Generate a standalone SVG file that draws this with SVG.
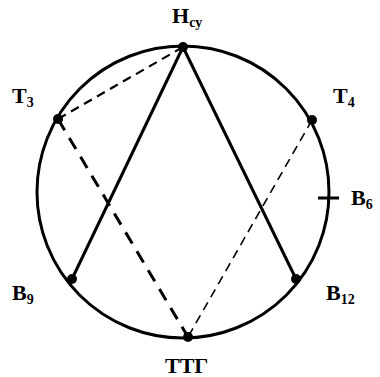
<svg xmlns="http://www.w3.org/2000/svg" width="380" height="377" viewBox="0 0 380 377">
<style>
.lbl{font-family:"Liberation Serif","Times New Roman",serif;font-weight:bold;font-size:22px;fill:#000}
.sub{font-size:14px}
.dot{fill:#000}
</style>
<rect width="380" height="377" fill="#fff"/>
<g id="circle"><circle cx="183" cy="192" r="146" fill="none" stroke="#000" stroke-width="3"/></g>
<g id="connectors" fill="none" stroke="#000">
<line x1="183" y1="47" x2="72" y2="279" stroke-width="3"/>
<line x1="183" y1="47" x2="296" y2="279" stroke-width="3"/>
<line x1="58" y1="119" x2="183" y2="47" stroke-width="2.2" stroke-dasharray="9,6"/>
<line x1="58" y1="119" x2="188" y2="337" stroke-width="3" stroke-dasharray="13,9"/>
<line x1="312" y1="120" x2="188" y2="337" stroke-width="1.6" stroke-dasharray="9,6"/>
<line x1="318" y1="198" x2="339" y2="198" stroke-width="3"/>
</g>
<g id="Hcy"><circle class="dot" cx="183" cy="47" r="5"/><text class="lbl" x="172" y="23">Н<tspan class="sub" dy="4">су</tspan></text></g>
<g id="T3"><circle class="dot" cx="58" cy="119" r="5"/><text class="lbl" x="12" y="103">Т<tspan class="sub" dy="4">3</tspan></text></g>
<g id="T4"><circle class="dot" cx="312" cy="120" r="5"/><text class="lbl" x="333" y="103">Т<tspan class="sub" dy="4">4</tspan></text></g>
<g id="B6"><text class="lbl" x="351" y="205">В<tspan class="sub" dy="4">6</tspan></text></g>
<g id="B9"><circle class="dot" cx="72" cy="279" r="5"/><text class="lbl" x="12" y="300">В<tspan class="sub" dy="4">9</tspan></text></g>
<g id="B12"><circle class="dot" cx="296" cy="279" r="5"/><text class="lbl" x="326" y="300">В<tspan class="sub" dy="4">12</tspan></text></g>
<g id="TTG"><circle class="dot" cx="188" cy="337" r="5"/><text class="lbl" x="165" y="373">ТТГ</text></g>
</svg>
